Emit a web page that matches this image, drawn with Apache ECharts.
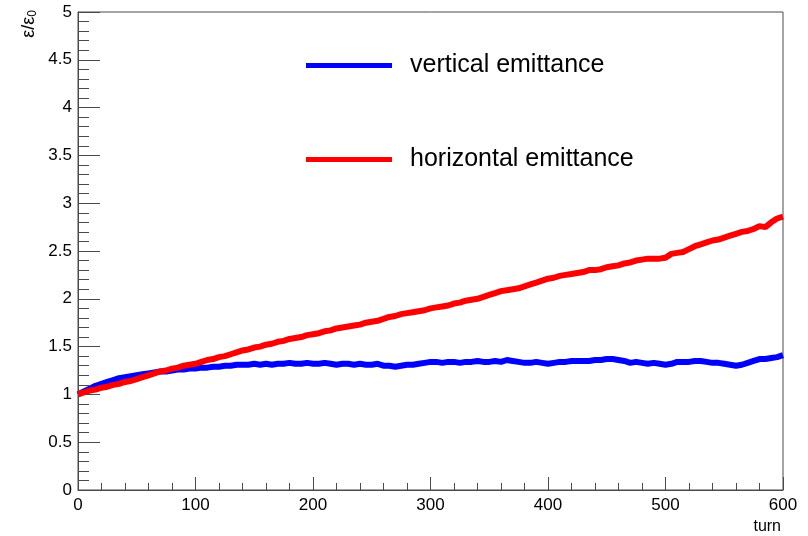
<!DOCTYPE html>
<html>
<head>
<meta charset="utf-8">
<script src="https://cdn.jsdelivr.net/npm/echarts@6/dist/echarts.min.js"></script>
<style>
  html, body { margin: 0; padding: 0; background: #fff; }
  #chart { width: 808px; height: 536px; }
</style>
</head>
<body>
<div id="chart"></div>
<script>
// turn number of each sample
const turns = [
  0, 5, 10, 15, 20, 25, 30, 35, 40, 45, 50, 55, 60, 65, 70, 75, 80, 85, 90, 95,
  100, 105, 110, 115, 120, 125, 130, 135, 140, 145, 150, 155, 160, 165, 170, 175, 180, 185, 190, 195,
  200, 205, 210, 215, 220, 225, 230, 235, 240, 245, 250, 255, 260, 265, 270, 275, 280, 285, 290, 295,
  300, 305, 310, 315, 320, 325, 330, 335, 340, 345, 350, 355, 360, 365, 370, 375, 380, 385, 390, 395,
  400, 405, 410, 415, 420, 425, 430, 435, 440, 445, 450, 455, 460, 465, 470, 475, 480, 485, 490, 495,
  500, 505, 510, 515, 520, 525, 530, 535, 540, 545, 550, 555, 560, 565, 570, 575, 580, 585, 590, 595,
  600
];

// vertical emittance, normalised to the initial value
const verticalEmit = [
  1.00, 1.03, 1.06, 1.09, 1.11, 1.13, 1.15, 1.17, 1.18, 1.19, 1.20, 1.21, 1.22, 1.23, 1.24, 1.24, 1.25, 1.26, 1.26, 1.27,
  1.27, 1.28, 1.28, 1.29, 1.29, 1.30, 1.30, 1.31, 1.31, 1.31, 1.32, 1.31, 1.32, 1.31, 1.32, 1.32, 1.33, 1.32, 1.32, 1.33,
  1.32, 1.32, 1.33, 1.32, 1.31, 1.32, 1.32, 1.31, 1.32, 1.31, 1.31, 1.32, 1.30, 1.30, 1.29, 1.30, 1.31, 1.31, 1.32, 1.33,
  1.34, 1.34, 1.33, 1.34, 1.34, 1.33, 1.34, 1.34, 1.35, 1.34, 1.34, 1.35, 1.34, 1.36, 1.35, 1.34, 1.33, 1.33, 1.34, 1.33,
  1.32, 1.33, 1.34, 1.34, 1.35, 1.35, 1.35, 1.35, 1.36, 1.36, 1.37, 1.37, 1.36, 1.35, 1.33, 1.34, 1.33, 1.32, 1.33, 1.32,
  1.31, 1.32, 1.34, 1.34, 1.34, 1.35, 1.35, 1.34, 1.33, 1.33, 1.32, 1.31, 1.30, 1.31, 1.33, 1.35, 1.37, 1.37, 1.38, 1.39,
  1.41
];

// horizontal emittance, normalised to the initial value
const horizontalEmit = [
  1.00, 1.02, 1.04, 1.05, 1.07, 1.08, 1.10, 1.11, 1.13, 1.14, 1.16, 1.18, 1.20, 1.22, 1.24, 1.25, 1.27, 1.28, 1.30, 1.31,
  1.32, 1.34, 1.36, 1.37, 1.39, 1.40, 1.42, 1.44, 1.46, 1.47, 1.49, 1.50, 1.52, 1.53, 1.55, 1.56, 1.58, 1.59, 1.60, 1.62,
  1.63, 1.64, 1.66, 1.67, 1.69, 1.70, 1.71, 1.72, 1.73, 1.75, 1.76, 1.77, 1.79, 1.81, 1.82, 1.84, 1.85, 1.86, 1.87, 1.88,
  1.90, 1.91, 1.92, 1.93, 1.95, 1.96, 1.98, 1.99, 2.00, 2.02, 2.04, 2.06, 2.08, 2.09, 2.10, 2.11, 2.13, 2.15, 2.17, 2.19,
  2.21, 2.22, 2.24, 2.25, 2.26, 2.27, 2.28, 2.30, 2.30, 2.31, 2.33, 2.34, 2.35, 2.37, 2.38, 2.40, 2.41, 2.42, 2.42, 2.42,
  2.43, 2.47, 2.48, 2.49, 2.52, 2.55, 2.57, 2.59, 2.61, 2.62, 2.64, 2.66, 2.68, 2.70, 2.71, 2.73, 2.76, 2.75, 2.80, 2.84,
  2.86
];

const seriesNames = ['vertical emittance', 'horizontal emittance'];
const xTitle = 'turn';

const FONT = '"Liberation Sans", Arial, Helvetica, sans-serif';
const AXIS_COLOR = '#4a4a4a';

const pairs = (ys) => turns.map((t, i) => [t, ys[i]]);

const chart = echarts.init(document.getElementById('chart'), null, { renderer: 'canvas' });

chart.setOption({
  backgroundColor: '#ffffff',
  animation: false,
  grid: {
    left: 78, right: 25, top: 12, bottom: 46,
    show: true, borderColor: AXIS_COLOR, borderWidth: 1, backgroundColor: 'transparent'
  },
  legend: {
    orient: 'vertical',
    left: 306, top: 53, padding: 0,
    itemWidth: 86, itemHeight: 5, itemGap: 69,
    icon: 'rect',
    data: seriesNames,
    textStyle: {
      fontFamily: FONT, fontSize: 25, color: '#000',
      lineHeight: 20, padding: [0, 0, 0, 13]
    }
  },
  xAxis: {
    type: 'value', min: 0, max: 600, interval: 100,
    axisLine: { show: true, lineStyle: { color: AXIS_COLOR, width: 1 } },
    axisTick: { show: true, inside: true, length: 13, lineStyle: { color: AXIS_COLOR } },
    minorTick: { show: true, splitNumber: 5, length: 7, lineStyle: { color: AXIS_COLOR } },
    splitLine: { show: false },
    axisLabel: { fontFamily: FONT, fontSize: 17, color: '#000', margin: 7 }
  },
  yAxis: {
    type: 'value', min: 0, max: 5, interval: 0.5,
    axisLine: { show: true, lineStyle: { color: AXIS_COLOR, width: 1 } },
    axisTick: { show: true, inside: true, length: 22, lineStyle: { color: AXIS_COLOR } },
    minorTick: { show: true, splitNumber: 5, length: 11, lineStyle: { color: AXIS_COLOR } },
    splitLine: { show: false },
    axisLabel: { fontFamily: FONT, fontSize: 17, color: '#000', margin: 6 }
  },
  graphic: [
    {
      type: 'text', right: 27, top: 519,
      style: { text: xTitle, font: '16px ' + FONT, fill: '#000' }
    },
    {
      type: 'text', x: 29, y: 10, rotation: Math.PI / 2,
      style: {
        text: '{a|ε/ε}{s|0}',
        align: 'right', verticalAlign: 'middle',
        rich: {
          a: { fontFamily: FONT, fontSize: 18, fill: '#000' },
          s: { fontFamily: FONT, fontSize: 12, fill: '#000', padding: [8, 0, 0, 0] }
        }
      }
    }
  ],
  series: [
    {
      name: seriesNames[0], type: 'line', data: pairs(verticalEmit),
      showSymbol: false, symbol: 'none',
      lineStyle: { color: '#0000ff', width: 6 }, itemStyle: { color: '#0000ff' }, z: 2
    },
    {
      name: seriesNames[1], type: 'line', data: pairs(horizontalEmit),
      showSymbol: false, symbol: 'none',
      lineStyle: { color: '#ff0000', width: 6 }, itemStyle: { color: '#ff0000' }, z: 3
    }
  ]
});
</script>
</body>
</html>
